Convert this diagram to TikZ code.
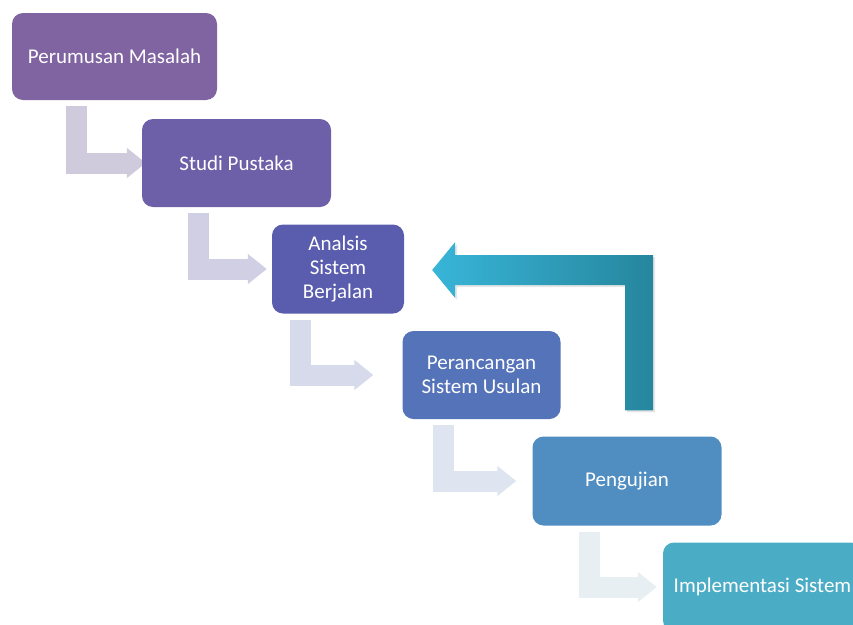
\documentclass[tikz,border=0pt]{standalone}
\usepackage{fontspec}
\setmainfont{Carlito}
\usepackage{xcolor}
\usepackage{tikz}
\usetikzlibrary{positioning,calc,arrows.meta,backgrounds,shadows}

\definecolor{boxA}{HTML}{8064A2}
\definecolor{boxB}{HTML}{6D5FA8}
\definecolor{boxC}{HTML}{5A5DAE}
\definecolor{boxD}{HTML}{5573B9}
\definecolor{boxE}{HTML}{508DC1}
\definecolor{boxF}{HTML}{4BACC6}
\definecolor{arrA}{HTML}{CFCADC}
\definecolor{arrB}{HTML}{D1CFE4}
\definecolor{arrC}{HTML}{D6DAEA}
\definecolor{arrD}{HTML}{DFE5F0}
\definecolor{arrE}{HTML}{E8EFF3}
\definecolor{loopL}{HTML}{38B5D8}
\definecolor{loopR}{HTML}{26869D}

\begin{document}
\begin{tikzpicture}[x=1pt, y=-1pt,
    stage/.style={rectangle, rounded corners=11pt, draw=none, text=white, align=center,
                  font=\fontsize{21}{24}\selectfont, inner sep=0pt},
    bent/.style={line width=21pt, -{Triangle[width=29pt,length=19pt]}}]
    \useasboundingbox (0,0) rectangle (853,624);

    % the stages
    \node[stage, fill=boxA, minimum width=205pt, minimum height=87pt] (masalah) at (114.5,56.5) {Perumusan Masalah};
    \node[stage, fill=boxB, minimum width=189pt, minimum height=88pt] (pustaka) at (236.5,163) {Studi Pustaka};
    \node[stage, fill=boxC, minimum width=132pt, minimum height=89pt] (analisis) at (338,269) {Analsis\\Sistem\\Berjalan};
    \node[stage, fill=boxD, minimum width=158pt, minimum height=88pt] (rancang) at (481.5,375) {Perancangan\\Sistem Usulan};
    \node[stage, fill=boxE, minimum width=189pt, minimum height=89pt] (uji) at (627,481) {Pengujian};
    \node[stage, fill=boxF, minimum width=199pt, minimum height=89pt] (implem) at (762.5,587) {Implementasi Sistem};

    % bent connectors
    \begin{scope}[on background layer]
        \draw[bent, arrA, shorten >=-4pt] ($(masalah.south)+(-38,6)$) |- (pustaka.west);
        \draw[bent, arrB, shorten >=5pt] ($(pustaka.south)+(-38,6)$) |- (analisis.west);
        \draw[bent, arrC, shorten >=29pt] ($(analisis.south)+(-38,6)$) |- (rancang.west);
        \draw[bent, arrD, shorten >=16pt] ($(rancang.south)+(-38,6)$) |- (uji.west);
        \draw[bent, arrE, shorten >=6pt] ($(uji.south)+(-38,6)$) |- (implem.west);
    \end{scope}

    % feedback from testing back to analysis
    \coordinate (fbfrom) at ($(uji.north)+(12,-26)$);
    \coordinate (fbto) at ($(analisis.east)+(28,1)$);
    \coordinate (fbcorner) at (fbfrom |- fbto);
    \shade[left color=loopL, right color=loopR,
           drop shadow={opacity=0.2, shadow xshift=2pt, shadow yshift=-2pt}]
        (fbto) -- ($(fbto)+(23,-28)$) -- ($(fbto)+(23,-15)$)
        -- ($(fbcorner)+(14,-15)$) -- ($(fbfrom)+(14,0)$) -- ($(fbfrom)+(-14,0)$)
        -- ($(fbcorner)+(-14,15)$) -- ($(fbto)+(23,15)$) -- ($(fbto)+(23,28)$) -- cycle;
\end{tikzpicture}
\end{document}
